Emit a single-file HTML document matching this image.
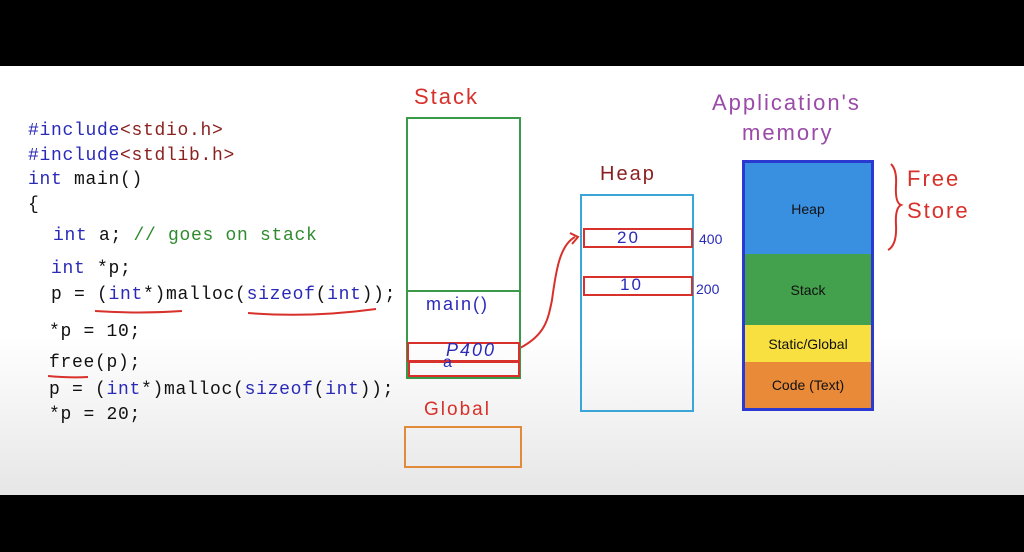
<!DOCTYPE html>
<html><head><style>
body{margin:0;width:1024px;height:552px;background:#000;position:relative;overflow:hidden;font-family:"Liberation Sans",sans-serif}
#wb{position:absolute;left:0;top:66px;width:1024px;height:429px;background:linear-gradient(#fff 0,#fff 270px,#e6e6e6 429px)}
.code{position:absolute;font-family:"Liberation Mono",monospace;font-size:18px;color:#111;white-space:pre;line-height:20px;letter-spacing:0.7px}
.k{color:#2a2ab8}.g{color:#2e8b2e}.r{color:#8b2020}
.hw{position:absolute;font-family:"Liberation Sans",sans-serif;letter-spacing:2px}
.seg{position:absolute;left:0;width:100%;display:flex;align-items:center;justify-content:center;font-size:14px;color:#111}
</style></head><body>
<div id="wb"></div>
<div class="code" style="left:28px;top:121px"><span class="k">#include</span><span class="r">&lt;stdio.h&gt;</span></div>
<div class="code" style="left:28px;top:146px"><span class="k">#include</span><span class="r">&lt;stdlib.h&gt;</span></div>
<div class="code" style="left:28px;top:170px"><span class="k">int</span> main()</div>
<div class="code" style="left:28px;top:195px">{</div>
<div class="code" style="left:53px;top:226px"><span class="k">int</span> a; <span class="g">// goes on stack</span></div>
<div class="code" style="left:51px;top:259px"><span class="k">int</span> *p;</div>
<div class="code" style="left:51px;top:285px">p = (<span class="k">int</span>*)malloc(<span class="k">sizeof</span>(<span class="k">int</span>));</div>
<div class="code" style="left:49px;top:322px">*p = 10;</div>
<div class="code" style="left:49px;top:353px">free(p);</div>
<div class="code" style="left:49px;top:380px">p = (<span class="k">int</span>*)malloc(<span class="k">sizeof</span>(<span class="k">int</span>));</div>
<div class="code" style="left:49px;top:405px">*p = 20;</div>
<svg width="1024" height="552" style="position:absolute;left:0;top:0">
<g fill="none" stroke="#d8302a" stroke-width="2">
<path d="M95 311 Q140 314 182 311"/><path d="M248 313 Q310 318 376 309"/><path d="M48 376 Q70 378 88 377"/>
<path d="M520 348 C545 335 548 320 552 300 C556 270 560 245 575 237"/><path d="M570 233 L578 237 L572 244"/>
<path d="M891 164 Q897 170 896 185 Q895 203 901 205 Q895 208 896 225 Q897 245 888 250"/>
</g>
<rect x="407" y="118" width="113" height="260" fill="none" stroke="#3a9a4a" stroke-width="2"/>
<line x1="407" y1="291" x2="520" y2="291" stroke="#3a9a4a" stroke-width="2"/>
<rect x="408" y="343" width="111" height="18" fill="none" stroke="#d8302a" stroke-width="2"/>
<rect x="409" y="362" width="110" height="14" fill="none" stroke="#d8302a" stroke-width="2"/>
<rect x="405" y="427" width="116" height="40" fill="none" stroke="#e08a3a" stroke-width="2"/>
<rect x="581" y="195" width="112" height="216" fill="none" stroke="#3aa6d8" stroke-width="2"/>
<rect x="584" y="229" width="108" height="18" fill="none" stroke="#d8302a" stroke-width="2"/>
<rect x="584" y="277" width="108" height="18" fill="none" stroke="#d8302a" stroke-width="2"/>
</svg>
<div class="hw" style="left:414px;top:84px;color:#d8302a;font-size:22px">Stack</div>
<div class="hw" style="left:426px;top:294px;color:#2a2ab8;font-size:18px">main()</div>
<div class="hw" style="left:446px;top:340px;color:#2a2ab8;font-size:18px;font-style:italic">P400</div>
<div class="hw" style="left:443px;top:354px;color:#2a2ab8;font-size:16px">a</div>
<div class="hw" style="left:424px;top:399px;color:#d8302a;font-size:19px">Global</div>
<div class="hw" style="left:600px;top:163px;color:#8b2020;font-size:20px">Heap</div>
<div class="hw" style="left:617px;top:228px;color:#2a2ab8;font-size:17px">20</div>
<div class="hw" style="left:620px;top:275px;color:#2a2ab8;font-size:17px">10</div>
<div class="hw" style="left:699px;top:231px;color:#2a2ab8;font-size:14px;letter-spacing:0">400</div>
<div class="hw" style="left:696px;top:281px;color:#2a2ab8;font-size:14px;letter-spacing:0">200</div>
<div class="hw" style="left:712px;top:90px;color:#9a4aa8;font-size:22px">Application's</div>
<div class="hw" style="left:742px;top:120px;color:#9a4aa8;font-size:22px">memory</div>
<div class="hw" style="left:907px;top:166px;color:#d8302a;font-size:22px">Free</div>
<div class="hw" style="left:907px;top:198px;color:#d8302a;font-size:22px">Store</div>
<div style="position:absolute;left:742px;top:160px;width:126px;height:245px;border:3px solid #2a3ad0;background:#e88a38">
<div class="seg" style="top:0;height:91px;background:#3a90e0">Heap</div>
<div class="seg" style="top:91px;height:71px;background:#43a04c">Stack</div>
<div class="seg" style="top:162px;height:37px;background:#f8e040">Static/Global</div>
<div class="seg" style="top:199px;height:46px">Code (Text)</div>
</div>
</body></html>
